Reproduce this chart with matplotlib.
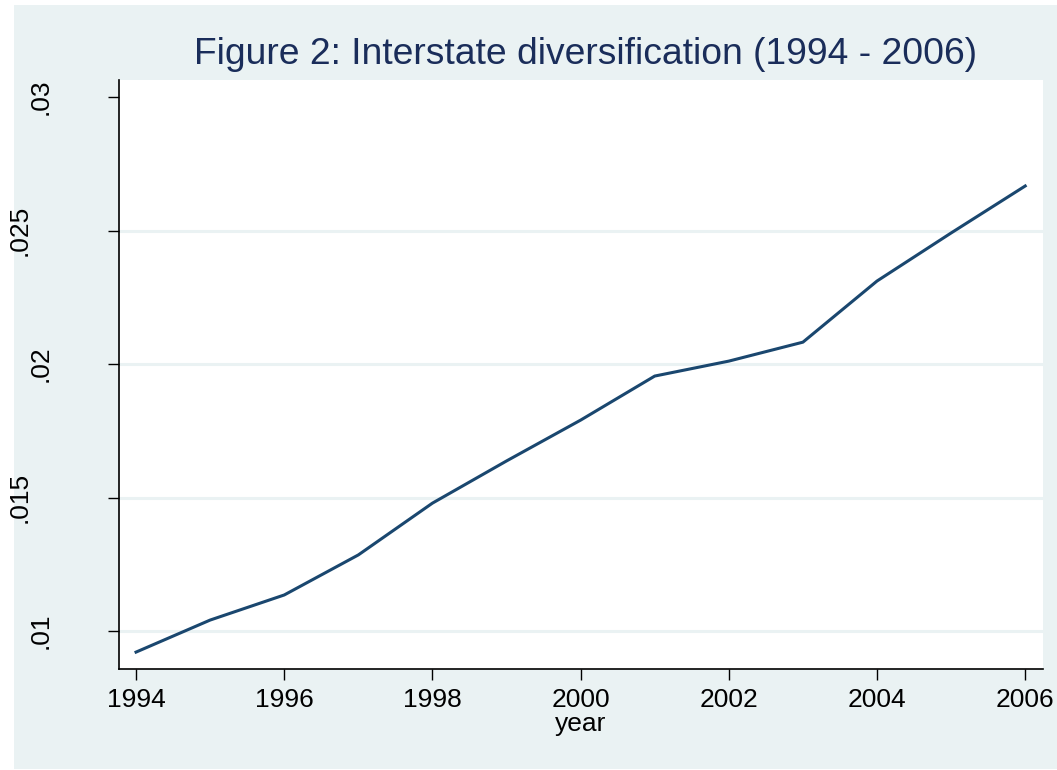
import matplotlib
matplotlib.use("Agg")
import matplotlib.pyplot as plt
from matplotlib.patches import Rectangle

years = [1994, 1995, 1996, 1997, 1998, 1999, 2000, 2001, 2002, 2003, 2004, 2005, 2006]
values = [0.00921, 0.01041, 0.01135, 0.01285, 0.01479, 0.01637, 0.01790,
          0.01955, 0.02011, 0.02082, 0.02311, 0.02491, 0.02667]
xticks = [1994, 1996, 1998, 2000, 2002, 2004, 2006]
yticks = [0.01, 0.015, 0.02, 0.025, 0.03]
ytick_labels = [".01", ".015", ".02", ".025", ".03"]
grid_vals = [0.01, 0.015, 0.02, 0.025]

plt.rcParams['font.family'] = ['Liberation Sans', 'DejaVu Sans']

W, H = 1057, 770
fig = plt.figure(figsize=(W / 100, H / 100), dpi=100, facecolor='white')
bg = '#eaf2f3'
fig.patches.append(Rectangle((14 / W, 1 - 769 / H), (W - 14) / W, (769 - 5) / H,
                             transform=fig.transFigure, facecolor=bg, edgecolor='none', zorder=-10))

left, top, right, bottom = 119, 80, 1043, 669
ax = fig.add_axes([left / W, 1 - bottom / H, (right - left) / W, (bottom - top) / H])
ax.set_zorder(5)
ax.set_facecolor('white')

for g in grid_vals:
    ax.axhline(g, color='#eaf2f3', lw=2.2, zorder=1)

ax.plot(years, values, color='#1a476f', lw=2.2, zorder=3)

ax.set_xlim(1993.77, 2006.24)
ax.set_ylim(0.008577, 0.03064)
ax.set_xticks(xticks)
ax.set_xticklabels([str(x) for x in xticks])
ax.set_yticks(yticks)
ax.set_yticklabels(ytick_labels, rotation=90, va='center')

for s in ['top', 'right']:
    ax.spines[s].set_visible(False)
for s in ['left', 'bottom']:
    ax.spines[s].set_linewidth(1.2)
    ax.spines[s].set_color('black')

ax.tick_params(axis='both', direction='out', length=8, width=1.0, labelsize=19, colors='black')
ax.tick_params(axis='x', pad=6)
for i, t in enumerate(ax.yaxis.get_major_ticks()):
    t.set_pad(40 if i % 2 == 0 else 55)

ax.set_xlabel('year', fontsize=19, labelpad=0)
fig.text(585 / W, 1 - 55 / H, 'Figure 2: Interstate diversification (1994 - 2006)',
         fontsize=26.8, color='#1a2d5a', ha='center', va='center')

fig.savefig('out.png', dpi=100, facecolor='white')
